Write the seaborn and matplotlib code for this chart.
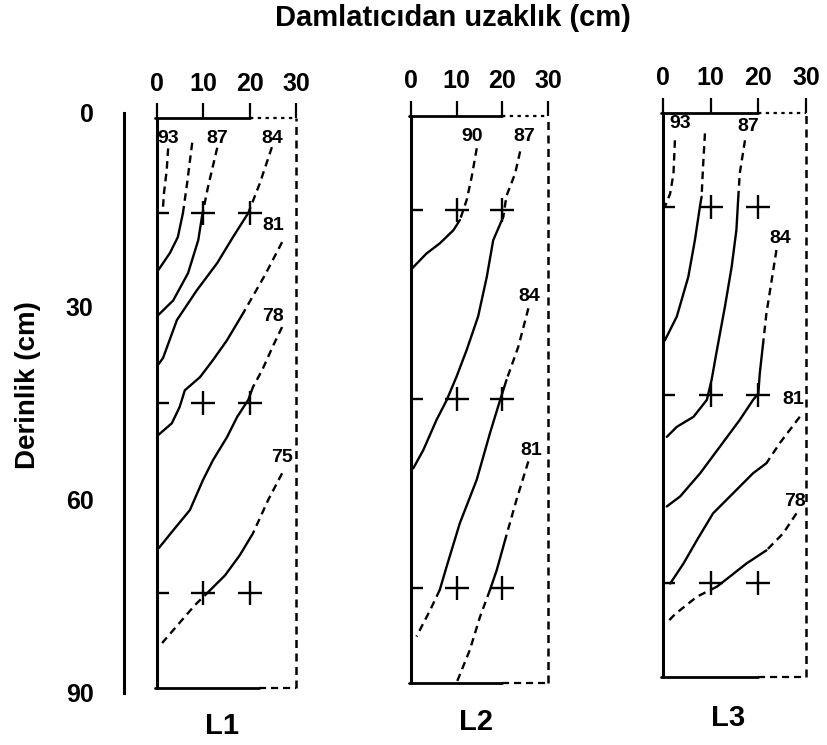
import matplotlib
matplotlib.use("Agg")
import matplotlib.pyplot as plt
import seaborn as sns

# ---------------- data ----------------
depth_ticks = [0, 30, 60, 90]
dist_ticks = [0, 10, 20, 30]
panel_names = ["L1", "L2", "L3"]
cross_x = [0, 10, 20]
cross_d = [15, 45, 75]

# L1 contours (distance cm, depth cm)
L1_93_x = [2.4, 2.1, 1.5, 1.2]
L1_93_d = [4.8, 8.2, 11.9, 15.1]
L1_90_x = [7.6, 6.5, 5.6, 4.5, 2.8, 0.3]
L1_90_d = [3.9, 10.3, 15.0, 18.8, 21.3, 24.0]
L1_87_x = [13.0, 11.0, 9.7, 8.9, 6.7, 3.5, 0.3]
L1_87_d = [4.7, 10.9, 15.6, 19.3, 24.5, 28.8, 31.1]
L1_84_x = [24.8, 22.2, 19.7, 16.4, 13.0, 8.6, 4.3, 1.3, 0.2]
L1_84_d = [4.6, 10.3, 15.0, 18.8, 22.9, 27.2, 31.9, 37.9, 39.0]
L1_81_x = [27.0, 23.3, 18.6, 15.1, 12.1, 9.3, 6.0, 4.9, 3.2, 0.2]
L1_81_d = [19.6, 24.8, 30.8, 35.1, 38.2, 40.9, 43.0, 45.6, 48.2, 50.1]
L1_78_x = [27.0, 25.1, 22.7, 20.7, 19.7, 17.3, 15.1, 12.1, 9.9, 7.1, 3.5, 0.4]
L1_78_d = [33.0, 35.9, 39.8, 42.5, 44.5, 47.2, 50.4, 54.0, 57.2, 61.9, 65.1, 67.9]
L1_75_x = [27.0, 24.0, 20.7, 17.9, 14.7, 11.4, 8.2, 5.0, 1.1]
L1_75_d = [56.1, 60.3, 65.6, 69.0, 72.2, 74.6, 76.9, 79.6, 82.9]
L1_labels = ["93", "87", "84", "81", "78", "75"]
L1_label_x = [2.4, 13.0, 24.8, 25.1, 25.1, 27.0]
L1_label_d = [3.2, 3.2, 3.2, 16.9, 31.4, 53.6]

# L2 contours
L2_90_x = [14.4, 13.3, 12.2, 10.7, 9.3, 6.3, 3.4, 0.2]
L2_90_d = [5.2, 9.7, 13.4, 16.6, 18.2, 20.3, 21.9, 24.3]
L2_87_x = [23.9, 22.8, 20.9, 20.2, 18.0, 16.6, 14.7, 12.2, 10.0, 7.8, 5.6, 2.7, 0.5]
L2_87_d = [5.7, 9.2, 12.8, 16.1, 19.8, 25.6, 31.9, 37.2, 41.4, 45.2, 48.3, 53.1, 56.0]
L2_84_x = [25.7, 23.5, 20.9, 19.5, 17.3, 14.4, 10.7, 7.8, 6.3, 4.2, 1.2]
L2_84_d = [30.6, 36.7, 42.0, 45.2, 50.4, 57.8, 64.7, 71.6, 75.3, 78.5, 82.7]
L2_81_x = [25.7, 23.1, 20.6, 18.8, 17.3, 15.1, 12.9, 10.0]
L2_81_d = [54.9, 61.0, 67.4, 72.1, 75.3, 79.6, 84.8, 90.0]
L2_labels = ["90", "87", "84", "81"]
L2_label_x = [13.3, 24.9, 26.0, 26.4]
L2_label_d = [3.4, 3.4, 28.8, 53.1]

# L3 contours
L3_93_x = [2.5, 2.2, 1.5, 0.4]
L3_93_d = [4.4, 9.7, 12.9, 15.0]
L3_90_x = [8.8, 8.4, 8.1, 7.8, 6.7, 5.3, 2.9, 0.4]
L3_90_d = [3.3, 8.6, 13.4, 14.7, 20.3, 26.2, 32.5, 36.3]
L3_87_x = [17.2, 16.1, 15.8, 15.4, 14.4, 13.0, 11.3, 10.2, 9.2, 6.4, 2.9, 0.8]
L3_87_d = [4.4, 9.7, 13.4, 18.7, 24.6, 30.9, 37.9, 42.6, 45.8, 48.5, 50.1, 51.7]
L3_84_x = [23.8, 22.8, 21.7, 21.0, 20.3, 20.0, 18.9, 16.1, 11.9, 7.8, 3.6, 0.8]
L3_84_d = [21.9, 26.7, 32.0, 36.8, 41.6, 44.8, 45.8, 49.0, 53.3, 57.5, 61.2, 62.8]
L3_81_x = [28.7, 24.5, 21.7, 18.9, 14.7, 10.5, 7.1, 4.3, 1.5]
L3_81_d = [48.5, 52.7, 55.9, 57.5, 60.7, 63.9, 68.2, 71.9, 75.1]
L3_78_x = [28.0, 25.2, 21.7, 17.5, 14.0, 11.3, 7.1, 2.5, 0.6]
L3_78_d = [63.9, 67.1, 69.8, 71.9, 74.0, 75.6, 77.2, 80.0, 81.5]
L3_labels = ["93", "87", "84", "81", "78"]
L3_label_x = [3.6, 17.9, 24.5, 27.3, 27.7]
L3_label_d = [1.7, 2.2, 20.0, 45.8, 62.0]

# ---------------- styling ----------------
sns.set_style("white")
plt.rcParams["font.family"] = ["Liberation Sans", "DejaVu Sans"]
plt.rcParams["font.weight"] = "bold"
plt.rcParams["text.color"] = "black"
plt.rcParams["xtick.color"] = "black"
plt.rcParams["ytick.color"] = "black"
plt.rcParams["xtick.labelcolor"] = "black"
plt.rcParams["ytick.labelcolor"] = "black"

DASH = (0, (3.2, 2.2))
DOT = (0, (1.5, 2.0))
LW = 1.7

# index ranges (start, end) of the solid part of each curve; rest is dashed
panels = [
    dict(curves=[(L1_93_x, L1_93_d, None), (L1_90_x, L1_90_d, (2, 5)),
                 (L1_87_x, L1_87_d, (2, 6)), (L1_84_x, L1_84_d, (2, 8)),
                 (L1_81_x, L1_81_d, (2, 9)), (L1_78_x, L1_78_d, (3, 11)),
                 (L1_75_x, L1_75_d, (2, 5))],
         labels=(L1_labels, L1_label_x, L1_label_d),
         rect_px=(157, 296, 118, 688), bottom_solid=22, name_px=(222, 726)),
    dict(curves=[(L2_90_x, L2_90_d, (3, 7)), (L2_87_x, L2_87_d, (3, 12)),
                 (L2_84_x, L2_84_d, (2, 8)), (L2_81_x, L2_81_d, (2, 4))],
         labels=(L2_labels, L2_label_x, L2_label_d),
         rect_px=(411, 548, 115.5, 682.5), bottom_solid=20, name_px=(476, 722)),
    dict(curves=[(L3_93_x, L3_93_d, None), (L3_90_x, L3_90_d, (2, 7)),
                 (L3_87_x, L3_87_d, (2, 11)), (L3_84_x, L3_84_d, (3, 11)),
                 (L3_81_x, L3_81_d, (2, 8)), (L3_78_x, L3_78_d, (2, 5))],
         labels=(L3_labels, L3_label_x, L3_label_d),
         rect_px=(663, 806, 112.7, 677), bottom_solid=20, name_px=(728, 718)),
]

W, H = 827, 745
fig = plt.figure(figsize=(W / 100, H / 100), dpi=100)


def rect(l, r, t, b):
    return [l / W, 1 - b / H, (r - l) / W, (b - t) / H]


# left depth axis
ax0 = fig.add_axes(rect(124, 124.5, 113, 693))
ax0.set_ylim(90, 0)
ax0.set_xticks([])
ax0.set_yticks(depth_ticks)
ax0.set_yticklabels([str(v) for v in depth_ticks], fontsize=18, fontweight="bold")
for s in ["top", "right", "bottom"]:
    ax0.spines[s].set_visible(False)
ax0.spines["left"].set_linewidth(2.2)
ax0.spines["left"].set_color("black")
ax0.tick_params(axis="y", direction="inout", length=20, width=2.2, pad=12, colors="black")
ax0.patch.set_alpha(0)

for p in panels:
    ax = fig.add_axes(rect(*p["rect_px"]))
    ax.patch.set_alpha(0)
    ax.set_xlim(0, 30)
    ax.set_ylim(90, 0)
    for s in ax.spines.values():
        s.set_visible(False)
    ax.xaxis.set_ticks_position("top")
    ax.set_xticks(dist_ticks)
    ax.set_xticklabels([str(v) for v in dist_ticks], fontsize=18, fontweight="bold")
    ax.tick_params(axis="x", direction="out", length=11, width=1.6, pad=5, colors="black")
    ax.set_yticks([])
    ax.set_xlabel("")
    ax.set_ylabel("")

    # frame
    ax.axvline(0, color="black", lw=2.2, clip_on=False)
    ax.axvline(30, color="black", lw=1.8, ls=DASH, clip_on=False)
    ax.plot([-0.5, 20], [0, 0], color="black", lw=2.0, clip_on=False)
    ax.plot([20, 30], [0, 0], color="black", lw=1.6, ls=DOT, clip_on=False)
    ax.plot([-0.5, p["bottom_solid"]], [90, 90], color="black", lw=2.0, clip_on=False)
    ax.plot([p["bottom_solid"], 30], [90, 90], color="black", lw=1.6, ls=DASH, clip_on=False)

    # contour curves
    for xs, ds, solid in p["curves"]:
        if solid is None:
            segs = [(0, len(xs) - 1, DASH)]
        else:
            a, b = solid
            segs = [(0, a, DASH), (a, b, "-"), (b, len(xs) - 1, DASH)]
        for i0, i1, ls in segs:
            if i1 <= i0:
                continue
            sns.lineplot(x=xs[i0:i1 + 1], y=ds[i0:i1 + 1], ax=ax, sort=False,
                         estimator=None, color="black", lw=LW, linestyle=ls)

    # crosses
    cx = [x for d in cross_d for x in cross_x]
    cd = [d for d in cross_d for x in cross_x]
    sns.scatterplot(x=cx, y=cd, ax=ax, marker="+", s=300, color="black",
                    linewidth=1.7)

    labs, lx, ld = p["labels"]
    for t, x, d in zip(labs, lx, ld):
        ax.text(x, d, t, ha="center", va="center", fontsize=14,
                fontweight="bold", color="black")

    ax.set_xlim(0, 30)
    ax.set_ylim(90, 0)

for p, name in zip(panels, panel_names):
    nx, ny = p["name_px"]
    fig.text(nx / W, 1 - ny / H, name, ha="center", va="center",
             fontsize=21, fontweight="bold", color="black")

fig.text(275 / W, 1 - 18 / H, "Damlatıcıdan uzaklık (cm)", ha="left", va="center",
         fontsize=21, fontweight="bold", color="black")
fig.text(28 / W, 1 - 385 / H, "Derinlik (cm)", ha="center", va="center",
         rotation=90, fontsize=20, fontweight="bold", color="black")

fig.savefig("out.png", dpi=100, facecolor="white")
